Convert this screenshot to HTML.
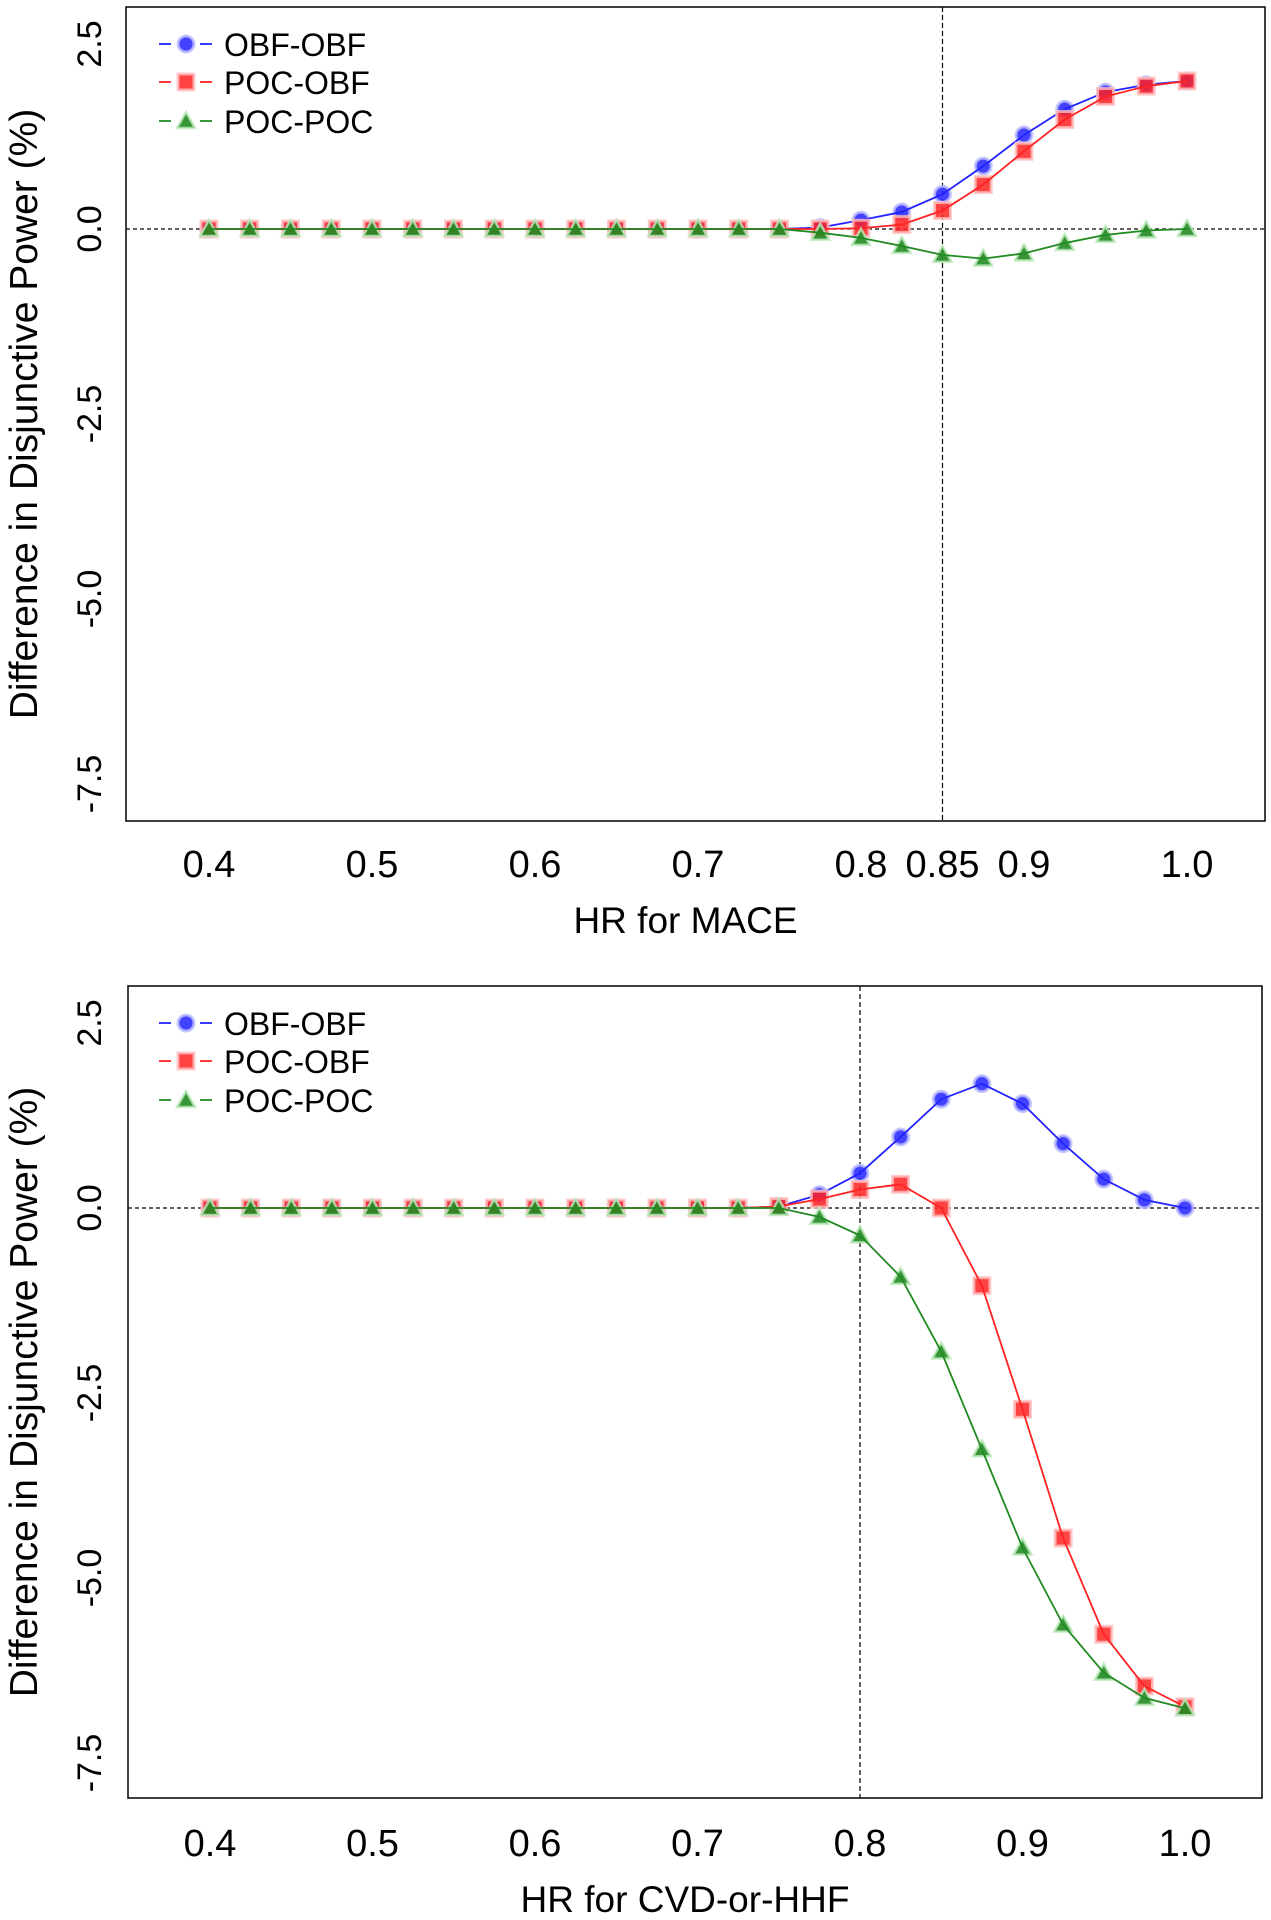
<!DOCTYPE html>
<html><head><meta charset="utf-8"><style>
html,body{margin:0;padding:0;background:#fff;}
svg{display:block;font-family:"Liberation Sans",Arial,sans-serif;}
</style></head><body>
<svg id="fig" width="1271" height="1920" viewBox="0 0 1271 1920" xmlns="http://www.w3.org/2000/svg"></svg>
<script>
const hr = [0.4,0.425,0.45,0.475,0.5,0.525,0.55,0.575,0.6,0.625,0.65,0.675,0.7,0.725,0.75,0.775,0.8,0.825,0.85,0.875,0.9,0.925,0.95,0.975,1.0];
const maceObfObf = [0,0,0,0,0,0,0,0,0,0,0,0,0,0,0,0.02,0.12,0.23,0.47,0.85,1.27,1.62,1.85,1.95,2.0];
const macePocObf = [0,0,0,0,0,0,0,0,0,0,0,0,0,0,0,0,0.01,0.06,0.25,0.6,1.05,1.48,1.79,1.93,2.0];
const macePocPoc = [0,0,0,0,0,0,0,0,0,0,0,0,0,0,0,-0.05,-0.12,-0.23,-0.35,-0.4,-0.33,-0.19,-0.08,-0.02,0];
const cvdObfObf = [0,0,0,0,0,0,0,0,0,0,0,0,0,0,0.02,0.18,0.47,0.96,1.47,1.68,1.41,0.87,0.39,0.11,0];
const cvdPocObf = [0,0,0,0,0,0,0,0,0,0,0,0,0,0,0.02,0.12,0.25,0.32,0,-1.05,-2.72,-4.46,-5.76,-6.46,-6.74];
const cvdPocPoc = [0,0,0,0,0,0,0,0,0,0,0,0,0,0,0,-0.12,-0.37,-0.93,-1.94,-3.26,-4.59,-5.63,-6.28,-6.62,-6.76];
const yTicks = [2.5,0,-2.5,-5,-7.5];
const yTickLabels = ["2.5","0.0","-2.5","-5.0","-7.5"];
const xTicksTop = [0.4,0.5,0.6,0.7,0.8,0.85,0.9,1.0];
const xTickLabelsTop = ["0.4","0.5","0.6","0.7","0.8","0.85","0.9","1.0"];
const xTicksBottom = [0.4,0.5,0.6,0.7,0.8,0.9,1.0];
const xTickLabelsBottom = ["0.4","0.5","0.6","0.7","0.8","0.9","1.0"];
const seriesNames = ["OBF-OBF","POC-OBF","POC-POC"];

const NS="http://www.w3.org/2000/svg";
const svg=document.getElementById('fig');
function mk(tag,attrs,parent){const e=document.createElementNS(NS,tag);for(const k in attrs)e.setAttribute(k,attrs[k]);(parent||svg).appendChild(e);return e;}
const colors=["#2222ff","#ff2222","#228b22"];
const halos=["rgba(190,190,255,0.8)","rgba(255,190,190,0.8)","rgba(190,235,190,0.8)"];

function marker(g,kind,cx,cy){
  let m;
  if(kind===0){m=mk('circle',{cx:cx,cy:cy,r:8,fill:colors[0],'fill-opacity':0.85,stroke:halos[0],'stroke-width':3},g);}
  else if(kind===1){m=mk('rect',{x:cx-8,y:cy-8,width:16,height:16,fill:colors[1],'fill-opacity':0.85,stroke:halos[1],'stroke-width':3},g);}
  else {m=mk('polygon',{points:(cx)+','+(cy-9)+' '+(cx+9)+','+(cy+7)+' '+(cx-9)+','+(cy+7),fill:colors[2],'fill-opacity':0.9,stroke:halos[2],'stroke-width':2.5},g);}
  return m;
}

function panel(cfg){
  const g=mk('g',{});
  
  
  const L=cfg.left,R=cfg.right,T=cfg.top,B=cfg.bottom;
  const xs=v=>cfg.x0px+(v-0.4)/(1.0-0.4)*(cfg.x1px-cfg.x0px);
  const ys=v=>cfg.y0px-v*(cfg.y0px-cfg.y25px)/2.5;
  const box=mk('rect',{x:L,y:T,width:R-L,height:B-T,fill:'none',stroke:'#000','stroke-width':1.5},g);
  
  
  const h=mk('line',{x1:L,x2:R,y1:ys(0),y2:ys(0),stroke:'#000','stroke-width':1.3,'stroke-dasharray':'4,3'},g);
  
  
  const v=mk('line',{x1:xs(cfg.vline),x2:xs(cfg.vline),y1:T,y2:B,stroke:'#000','stroke-width':1.2,'stroke-dasharray':'5,3'},g);
  
  
  yTicks.forEach((t,i)=>{
    const tx=mk('text',{x:0,y:0,'font-size':34,'text-anchor':'middle',transform:'translate(101,'+ys(t)+') rotate(-90)'},g);
    tx.textContent=yTickLabels[i];
    
    
  });
  cfg.xt.forEach((t,i)=>{
    const tx=mk('text',{x:xs(t),y:cfg.xtY,'font-size':38,'text-anchor':'middle'},g);
    tx.textContent=cfg.xl[i];
    
    
  });
  const xt=mk('text',{x:(L+R)/2-10,y:cfg.xTitleY,'font-size':37,'text-anchor':'middle'},g);
  xt.textContent=cfg.xTitle;
  
  
  const yt=mk('text',{x:0,y:0,'font-size':39,'text-anchor':'middle',transform:'translate(37,'+((T+B)/2)+') rotate(-90)'},g);
  yt.textContent='Difference in Disjunctive Power (%)';
  
  
  cfg.series.forEach((data,k)=>{
    const sg=mk('g',{},g);
    
    
    data.forEach((d,i)=>{
      const m=marker(sg,k,xs(hr[i]),ys(d));
      
      
    });
    const pts=data.map((d,i)=>xs(hr[i])+','+ys(d)).join(' ');
    const pl=mk('polyline',{points:pts,fill:'none',stroke:colors[k],'stroke-width':1.8},sg);
    
    
  });
  const lg=mk('g',{},g);
  
  
  seriesNames.forEach((n,k)=>{
    const y=cfg.legY[k];
    const eg=mk('g',{},lg);
    
    
    mk('line',{x1:159,x2:171,y1:y,y2:y,stroke:colors[k],'stroke-width':1.8},eg);
    mk('line',{x1:200,x2:212,y1:y,y2:y,stroke:colors[k],'stroke-width':1.8},eg);
    marker(eg,k,186,y);
    const t=mk('text',{x:224,y:y+12,'font-size':32},eg);
    t.textContent=n;
  });
}
panel({name:'mace-panel',left:126,right:1265,top:7,bottom:821,x0px:209,x1px:1187,y0px:229,y25px:44,vline:0.85,
  xt:xTicksTop,xl:xTickLabelsTop,xtY:877,xTitle:'HR for MACE',xTitleY:933,
  series:[maceObfObf,macePocObf,macePocPoc],legY:[44,82,121]});
panel({name:'cvd-hhf-panel',left:128,right:1262,top:986,bottom:1798,x0px:210,x1px:1185,y0px:1208,y25px:1023,vline:0.8,
  xt:xTicksBottom,xl:xTickLabelsBottom,xtY:1856,xTitle:'HR for CVD-or-HHF',xTitleY:1912,
  series:[cvdObfObf,cvdPocObf,cvdPocPoc],legY:[1023,1061,1100]});
</script>
</body></html>
